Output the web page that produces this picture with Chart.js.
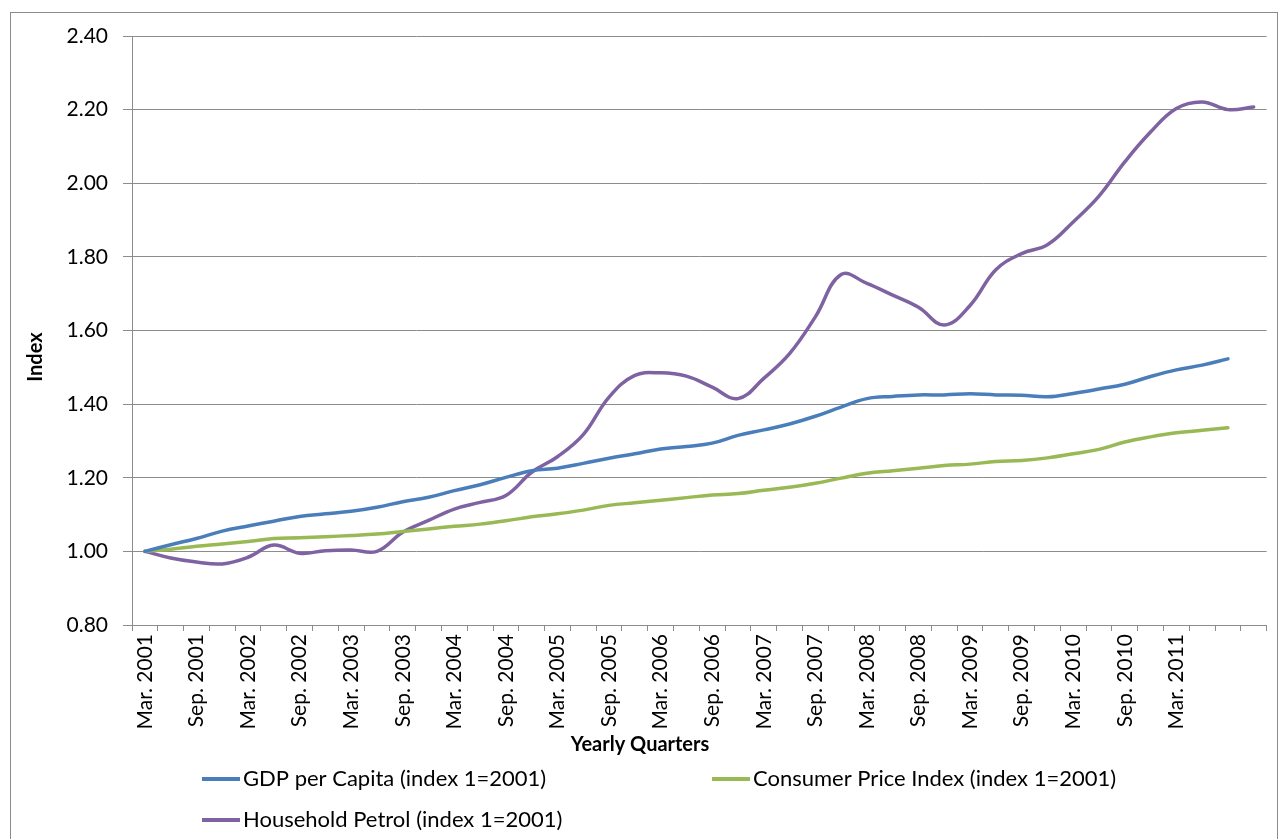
<!DOCTYPE html>
<html>
<head>
<meta charset="utf-8">
<script src="https://cdn.jsdelivr.net/npm/chart.js@4.4.0/dist/chart.umd.min.js"></script>
<style>
    html, body { margin: 0; padding: 0; background: #fff; }
    #wrap { position: relative; width: 1282px; height: 839px; overflow: hidden; }
    #frame { position: absolute; left: 10px; top: 12px; width: 1268px; height: 840px; border: 1px solid #8c8c8c; box-sizing: border-box; }
    #myChart { position: absolute; left: 0; top: 0; }
</style>
</head>
<body>
<div id="wrap">
    <div id="frame"></div>
    <canvas id="myChart" width="1282" height="839" style="width:1282px;height:839px"></canvas>
</div>
<script>
const QUARTERS = [
    'Mar. 2001', 'Jun. 2001', 'Sep. 2001', 'Dec. 2001',
    'Mar. 2002', 'Jun. 2002', 'Sep. 2002', 'Dec. 2002',
    'Mar. 2003', 'Jun. 2003', 'Sep. 2003', 'Dec. 2003',
    'Mar. 2004', 'Jun. 2004', 'Sep. 2004', 'Dec. 2004',
    'Mar. 2005', 'Jun. 2005', 'Sep. 2005', 'Dec. 2005',
    'Mar. 2006', 'Jun. 2006', 'Sep. 2006', 'Dec. 2006',
    'Mar. 2007', 'Jun. 2007', 'Sep. 2007', 'Dec. 2007',
    'Mar. 2008', 'Jun. 2008', 'Sep. 2008', 'Dec. 2008',
    'Mar. 2009', 'Jun. 2009', 'Sep. 2009', 'Dec. 2009',
    'Mar. 2010', 'Jun. 2010', 'Sep. 2010', 'Dec. 2010',
    'Mar. 2011', 'Jun. 2011', 'Sep. 2011', 'Dec. 2011'
];
// only every second quarter up to Mar. 2011 carries a label on the axis
const LAST_LABELLED = 40;

const GDP = [
    1.000, 1.018, 1.035, 1.055, 1.069, 1.082, 1.095, 1.102, 1.109, 1.120, 1.135, 1.147,
    1.165, 1.181, 1.201, 1.219, 1.226, 1.239, 1.253, 1.265, 1.278, 1.285, 1.294, 1.315,
    1.330, 1.346, 1.367, 1.392, 1.415, 1.421, 1.425, 1.425, 1.428, 1.425, 1.424, 1.420,
    1.429, 1.441, 1.454, 1.475, 1.493, 1.506, 1.523, null
];
const CPI = [
    1.000, 1.006, 1.014, 1.020, 1.027, 1.035, 1.037, 1.040, 1.043, 1.047, 1.054, 1.061,
    1.068, 1.074, 1.083, 1.094, 1.102, 1.112, 1.125, 1.132, 1.139, 1.146, 1.153, 1.157,
    1.166, 1.174, 1.185, 1.199, 1.212, 1.219, 1.226, 1.233, 1.237, 1.244, 1.247, 1.254,
    1.265, 1.277, 1.297, 1.311, 1.322, 1.329, 1.336, null
];
const PETROL = [
    1.000, 0.982, 0.971, 0.966, 0.984, 1.017, 0.995, 1.002, 1.004, 1.000, 1.052, 1.084,
    1.115, 1.133, 1.152, 1.215, 1.257, 1.317, 1.419, 1.478, 1.485, 1.476, 1.446, 1.415,
    1.470, 1.537, 1.637, 1.752, 1.728, 1.696, 1.663, 1.615, 1.668, 1.765, 1.809, 1.833,
    1.895, 1.965, 2.058, 2.139, 2.203, 2.221, 2.200, 2.207
];

const SERIES = [
    { label: 'GDP per Capita (index 1=2001)', data: GDP, color: '#4A7EBB' },
    { label: 'Consumer Price Index (index 1=2001)', data: CPI, color: '#98B954' },
    { label: 'Household Petrol (index 1=2001)', data: PETROL, color: '#7F62A1' }
];

const FONT = "Lato, 'Open Sans', sans-serif";
const GRID = '#8c8c8c';

// Excel-style legend slots and axis titles drawn straight onto the canvas
const LEGEND_POS = [{ x: 202, y: 779 }, { x: 712, y: 779 }, { x: 202, y: 820 }];

const decor = {
    id: 'decor',
    afterDraw(chart) {
        const ctx = chart.ctx;
        ctx.save();
        ctx.fillStyle = '#000';
        ctx.font = `bold 20px ${FONT}`;
        ctx.textAlign = 'center';
        ctx.textBaseline = 'middle';
        ctx.fillText('Yearly Quarters', 640, 745);

        ctx.save();
        ctx.translate(36, 357);
        ctx.rotate(-Math.PI / 2);
        ctx.fillText('Index', 0, 0);
        ctx.restore();

        ctx.font = `22px ${FONT}`;
        ctx.textAlign = 'left';
        chart.data.datasets.forEach((ds, i) => {
            const p = LEGEND_POS[i];
            ctx.strokeStyle = ds.borderColor;
            ctx.lineWidth = 4;
            ctx.beginPath();
            ctx.moveTo(p.x, p.y);
            ctx.lineTo(p.x + 38, p.y);
            ctx.stroke();
            ctx.fillText(ds.label, p.x + 41, p.y);
        });
        ctx.restore();
    }
};

Chart.defaults.font.family = FONT;
Chart.defaults.color = '#000';

new Chart(document.getElementById('myChart'), {
    type: 'line',
    data: {
        labels: QUARTERS,
        datasets: SERIES.map(s => ({
            label: s.label, data: s.data,
            borderColor: s.color, backgroundColor: s.color,
            borderWidth: 3.5, pointRadius: 0, tension: 0.4,
            borderCapStyle: 'round', borderJoinStyle: 'round', fill: false
        }))
    },
    options: {
        responsive: false, animation: false,
        layout: { padding: { top: 36, right: 9, left: 0, bottom: 0 } },
        plugins: { legend: { display: false }, tooltip: { enabled: false } },
        scales: {
            x: {
                offset: true,
                grid: { offset: true, drawOnChartArea: false, drawTicks: true, tickLength: 6, color: GRID },
                border: { color: GRID },
                ticks: {
                    autoSkip: false, maxRotation: 90, minRotation: 90, padding: 3,
                    font: { size: 21 }, color: '#000',
                    callback: (v, i) => (i % 2 === 0 && i <= LAST_LABELLED) ? QUARTERS[i] : ''
                },
                afterFit: s => { s.height = 214; }
            },
            y: {
                min: 0.8, max: 2.4,
                grid: { color: GRID, tickLength: 9 },
                border: { color: GRID },
                ticks: { stepSize: 0.2, padding: 15, font: { size: 21 }, color: '#000', callback: v => v.toFixed(2) },
                afterFit: s => { s.width = 132; }
            }
        }
    },
    plugins: [decor]
});
</script>
</body>
</html>
